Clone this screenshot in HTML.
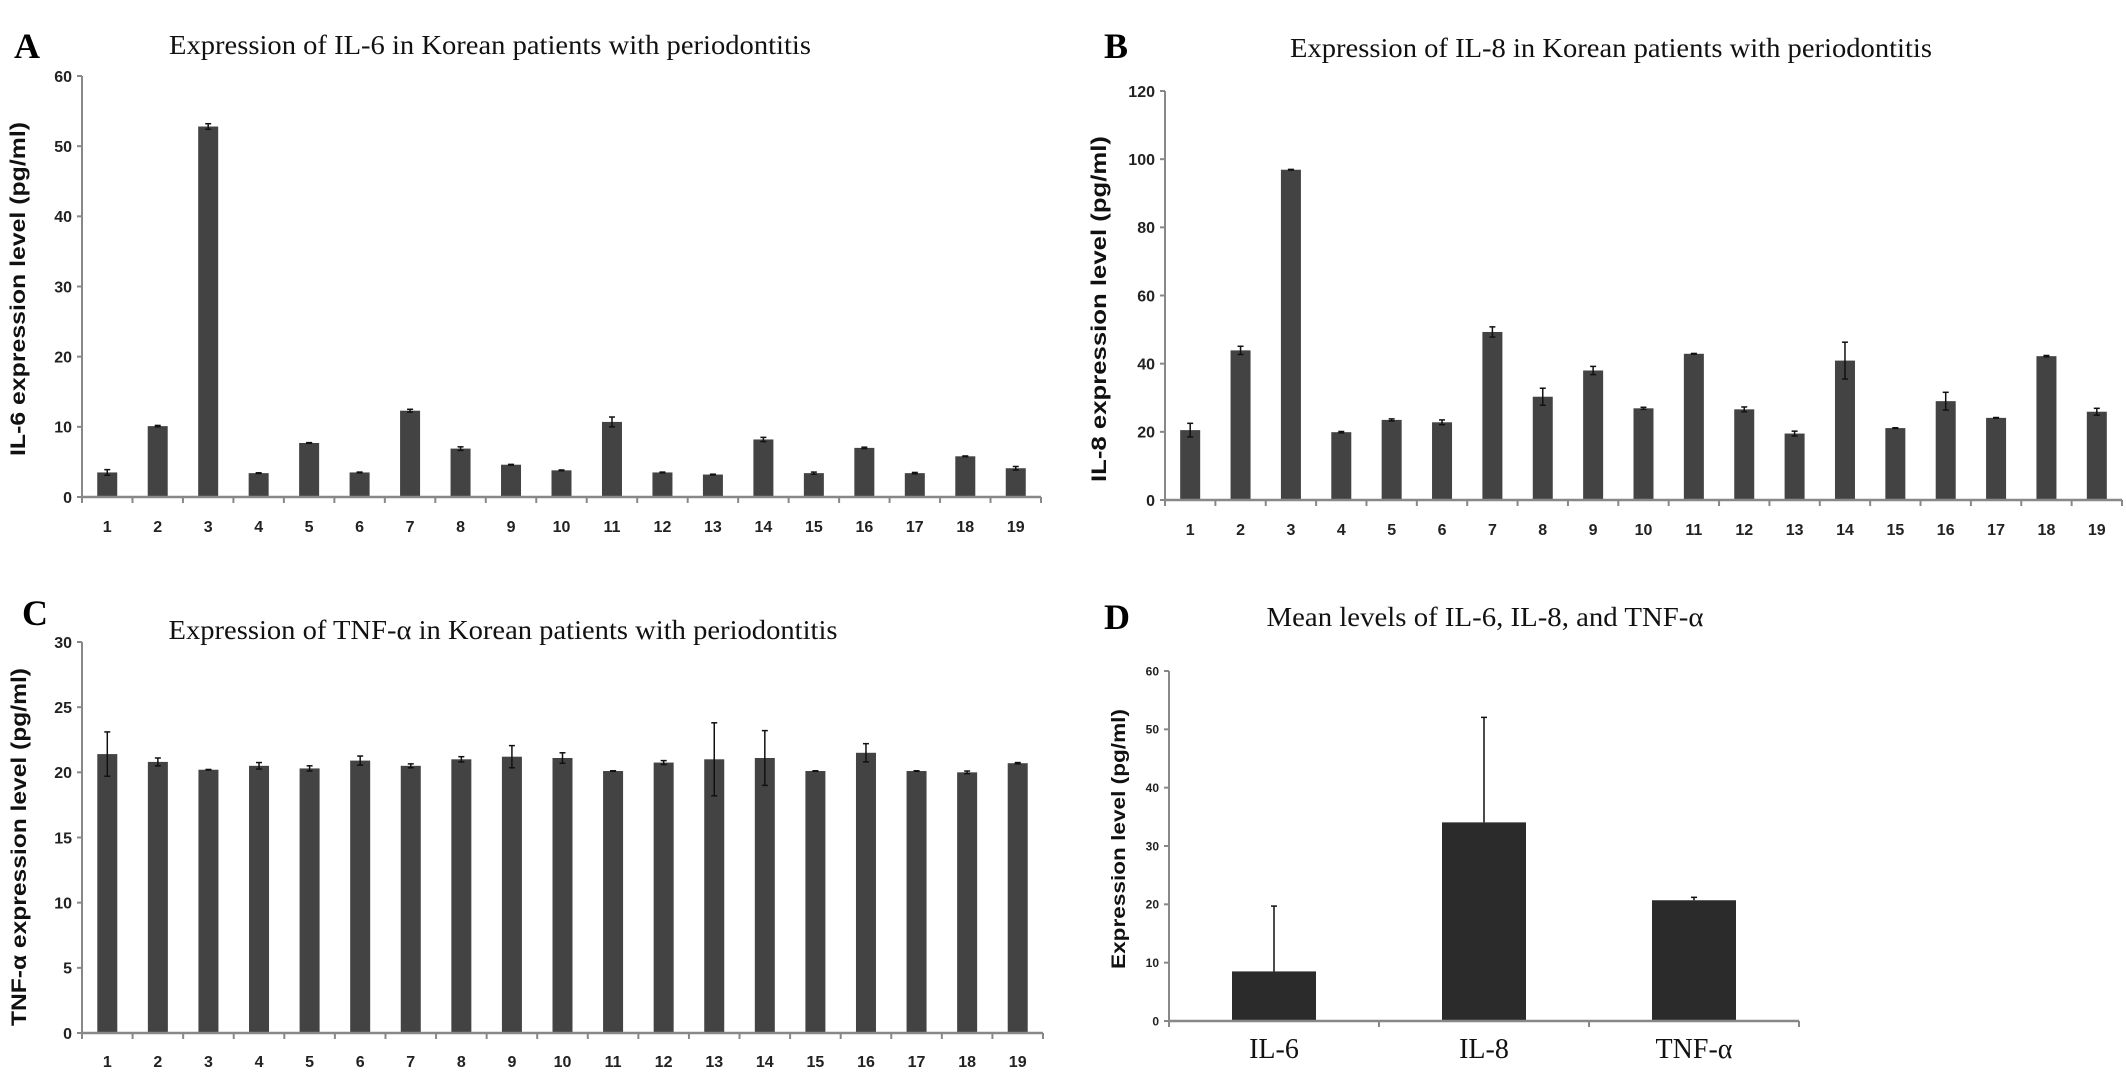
<!DOCTYPE html>
<html><head><meta charset="utf-8">
<style>
html,body{margin:0;padding:0;background:#fff;}
svg{display:block;}
.tick{font-family:"Liberation Sans",Arial,sans-serif;font-weight:bold;fill:#222;}
.ttl{font-family:"Liberation Serif","Times New Roman",serif;fill:#111;}
.lbl{font-family:"Liberation Serif","Times New Roman",serif;font-weight:bold;fill:#000;}
.yt{font-family:"Liberation Sans",Arial,sans-serif;font-weight:bold;fill:#111;}
</style></head>
<body>
<svg id="fig" width="2126" height="1074" viewBox="0 0 2126 1074" xmlns="http://www.w3.org/2000/svg">
<text class="lbl" x="14" y="58" font-size="36">A</text>
<text class="ttl" x="490" y="54" font-size="27" text-anchor="middle" textLength="642" lengthAdjust="spacingAndGlyphs">Expression of IL-6 in Korean patients with periodontitis</text>
<text class="yt" transform="translate(25,289) rotate(-90)" font-size="21" text-anchor="middle" textLength="334" lengthAdjust="spacingAndGlyphs">IL-6 expression level (pg/ml)</text>

<text class="lbl" x="1104" y="58" font-size="36">B</text>
<text class="ttl" x="1611" y="57" font-size="27" text-anchor="middle" textLength="642" lengthAdjust="spacingAndGlyphs">Expression of IL-8 in Korean patients with periodontitis</text>
<text class="yt" transform="translate(1106,309) rotate(-90)" font-size="21" text-anchor="middle" textLength="346" lengthAdjust="spacingAndGlyphs">IL-8 expression level (pg/ml)</text>

<text class="lbl" x="22" y="625" font-size="36">C</text>
<text class="ttl" x="503" y="639" font-size="27" text-anchor="middle" textLength="669" lengthAdjust="spacingAndGlyphs">Expression of TNF-α in Korean patients with periodontitis</text>
<text class="yt" transform="translate(26,847) rotate(-90)" font-size="21" text-anchor="middle" textLength="358" lengthAdjust="spacingAndGlyphs">TNF-α expression level (pg/ml)</text>

<text class="lbl" x="1104" y="629" font-size="36">D</text>
<text class="ttl" x="1485" y="626" font-size="27" text-anchor="middle" textLength="437" lengthAdjust="spacingAndGlyphs">Mean levels of IL-6, IL-8, and TNF-α</text>
<text class="yt" transform="translate(1125,839) rotate(-90)" font-size="19" text-anchor="middle" textLength="260" lengthAdjust="spacingAndGlyphs">Expression level (pg/ml)</text>
</svg>
<script>
const patients = ["1","2","3","4","5","6","7","8","9","10","11","12","13","14","15","16","17","18","19"];
const il6Values = [3.5,10.1,52.8,3.4,7.7,3.5,12.3,6.9,4.6,3.8,10.7,3.5,3.2,8.2,3.4,7.0,3.4,5.8,4.1];
const il6Errors = [0.4,0.1,0.4,0.05,0.05,0.05,0.2,0.25,0.05,0.05,0.7,0.05,0.05,0.3,0.15,0.1,0.1,0.05,0.25];
const il6Ticks = [0,10,20,30,40,50,60];
const il8Values = [20.5,43.9,96.9,19.9,23.5,22.8,49.3,30.3,38,26.9,42.9,26.6,19.5,40.9,21.1,29,24.1,42.2,25.9];
const il8Errors = [2,1.2,0.1,0.2,0.3,0.7,1.5,2.5,1.2,0.3,0.1,0.7,0.7,5.4,0.1,2.6,0.1,0.2,1];
const il8Ticks = [0,20,40,60,80,100,120];
const tnfValues = [21.4,20.8,20.2,20.5,20.3,20.9,20.5,21.0,21.2,21.1,20.1,20.75,21.0,21.1,20.1,21.5,20.1,20.0,20.7];
const tnfErrors = [1.7,0.3,0.02,0.25,0.2,0.35,0.15,0.2,0.85,0.4,0.02,0.15,2.8,2.1,0.02,0.7,0.02,0.1,0.05];
const tnfTicks = [0,5,10,15,20,25,30];
const meanCategories = ["IL-6","IL-8","TNF-α"];
const meanValues = [8.5,34.05,20.7];
const meanErrors = [11.2,18,0.5];
const meanTicks = [0,10,20,30,40,50,60];

const NS="http://www.w3.org/2000/svg";
const svg=document.getElementById('fig');
function mk(tag,attrs,parent){const e=document.createElementNS(NS,tag);for(const k in attrs)e.setAttribute(k,attrs[k]);(parent||svg).appendChild(e);return e;}

function drawChart(cfg){
  const g=mk('g',{});
  
  
  const max=cfg.ticks[cfg.ticks.length-1];
  const y=v=>cfg.y0-(v/max)*(cfg.y0-cfg.yTop);
  const n=cfg.cats.length;
  const bw=(cfg.x1-cfg.x0)/n;
  const x=i=>cfg.x0+bw*(i+0.5);
  // y axis
  const ya=mk('line',{x1:cfg.x0,y1:cfg.yTop,x2:cfg.x0,y2:cfg.y0,stroke:'#888','stroke-width':2},g);
  
  
  cfg.ticks.forEach(t=>{
    mk('line',{x1:cfg.x0-5,y1:y(t),x2:cfg.x0,y2:y(t),stroke:'#888','stroke-width':2},g);
    const tl=mk('text',{x:cfg.x0-10,y:y(t)+cfg.tf*0.36,'font-size':cfg.tf,'text-anchor':'end',class:'tick'},g);
    tl.textContent=t;
    
    
  });
  // bars
  cfg.vals.forEach((v,i)=>{
    const r=mk('rect',{x:x(i)-cfg.barW/2,y:y(v),width:cfg.barW,height:cfg.y0-y(v),fill:cfg.fill},g);
    
    
    const e=cfg.errs[i];
    const top=y(v+e), bot=cfg.upOnly?y(v):y(v-e);
    const eb=mk('g',{},g);
    
    
    mk('line',{x1:x(i),y1:top,x2:x(i),y2:bot,stroke:'#111','stroke-width':1.5},eb);
    mk('line',{x1:x(i)-3,y1:top,x2:x(i)+3,y2:top,stroke:'#111','stroke-width':1.5},eb);
    if(!cfg.upOnly) mk('line',{x1:x(i)-3,y1:bot,x2:x(i)+3,y2:bot,stroke:'#111','stroke-width':1.5},eb);
  });
  // x axis
  const xa=mk('line',{x1:cfg.x0,y1:cfg.y0,x2:cfg.x1,y2:cfg.y0,stroke:'#888','stroke-width':2.5},g);
  
  
  for(let i=0;i<=n;i++){
    const tx=cfg.x0+bw*i;
    mk('line',{x1:tx,y1:cfg.y0,x2:tx,y2:cfg.y0+6,stroke:'#888','stroke-width':2},g);
  }
  cfg.cats.forEach((c,i)=>{
    const tl=mk('text',{x:x(i),y:cfg.labY,'font-size':cfg.lf,'text-anchor':'middle',class:cfg.serifLabels?'ttl':'tick'},g);
    tl.textContent=c;
    
    
  });
}
drawChart({name:'chart-il6',cats:patients,vals:il6Values,errs:il6Errors,ticks:il6Ticks,x0:82,x1:1041,y0:497,yTop:76,barW:20,fill:'#434343',tf:16,lf:16,labY:532});
drawChart({name:'chart-il8',cats:patients,vals:il8Values,errs:il8Errors,ticks:il8Ticks,x0:1165,x1:2122,y0:500,yTop:91,barW:20,fill:'#434343',tf:16,lf:16,labY:535});
drawChart({name:'chart-tnf',cats:patients,vals:tnfValues,errs:tnfErrors,ticks:tnfTicks,x0:82,x1:1043,y0:1033,yTop:642,barW:20,fill:'#434343',tf:16,lf:16,labY:1067});
drawChart({name:'chart-mean',cats:meanCategories,vals:meanValues,errs:meanErrors,ticks:meanTicks,x0:1169,x1:1799,y0:1021,yTop:671,barW:84,fill:'#2b2b2b',tf:12,lf:28,labY:1058,upOnly:true,serifLabels:true});
</script>
</body></html>
